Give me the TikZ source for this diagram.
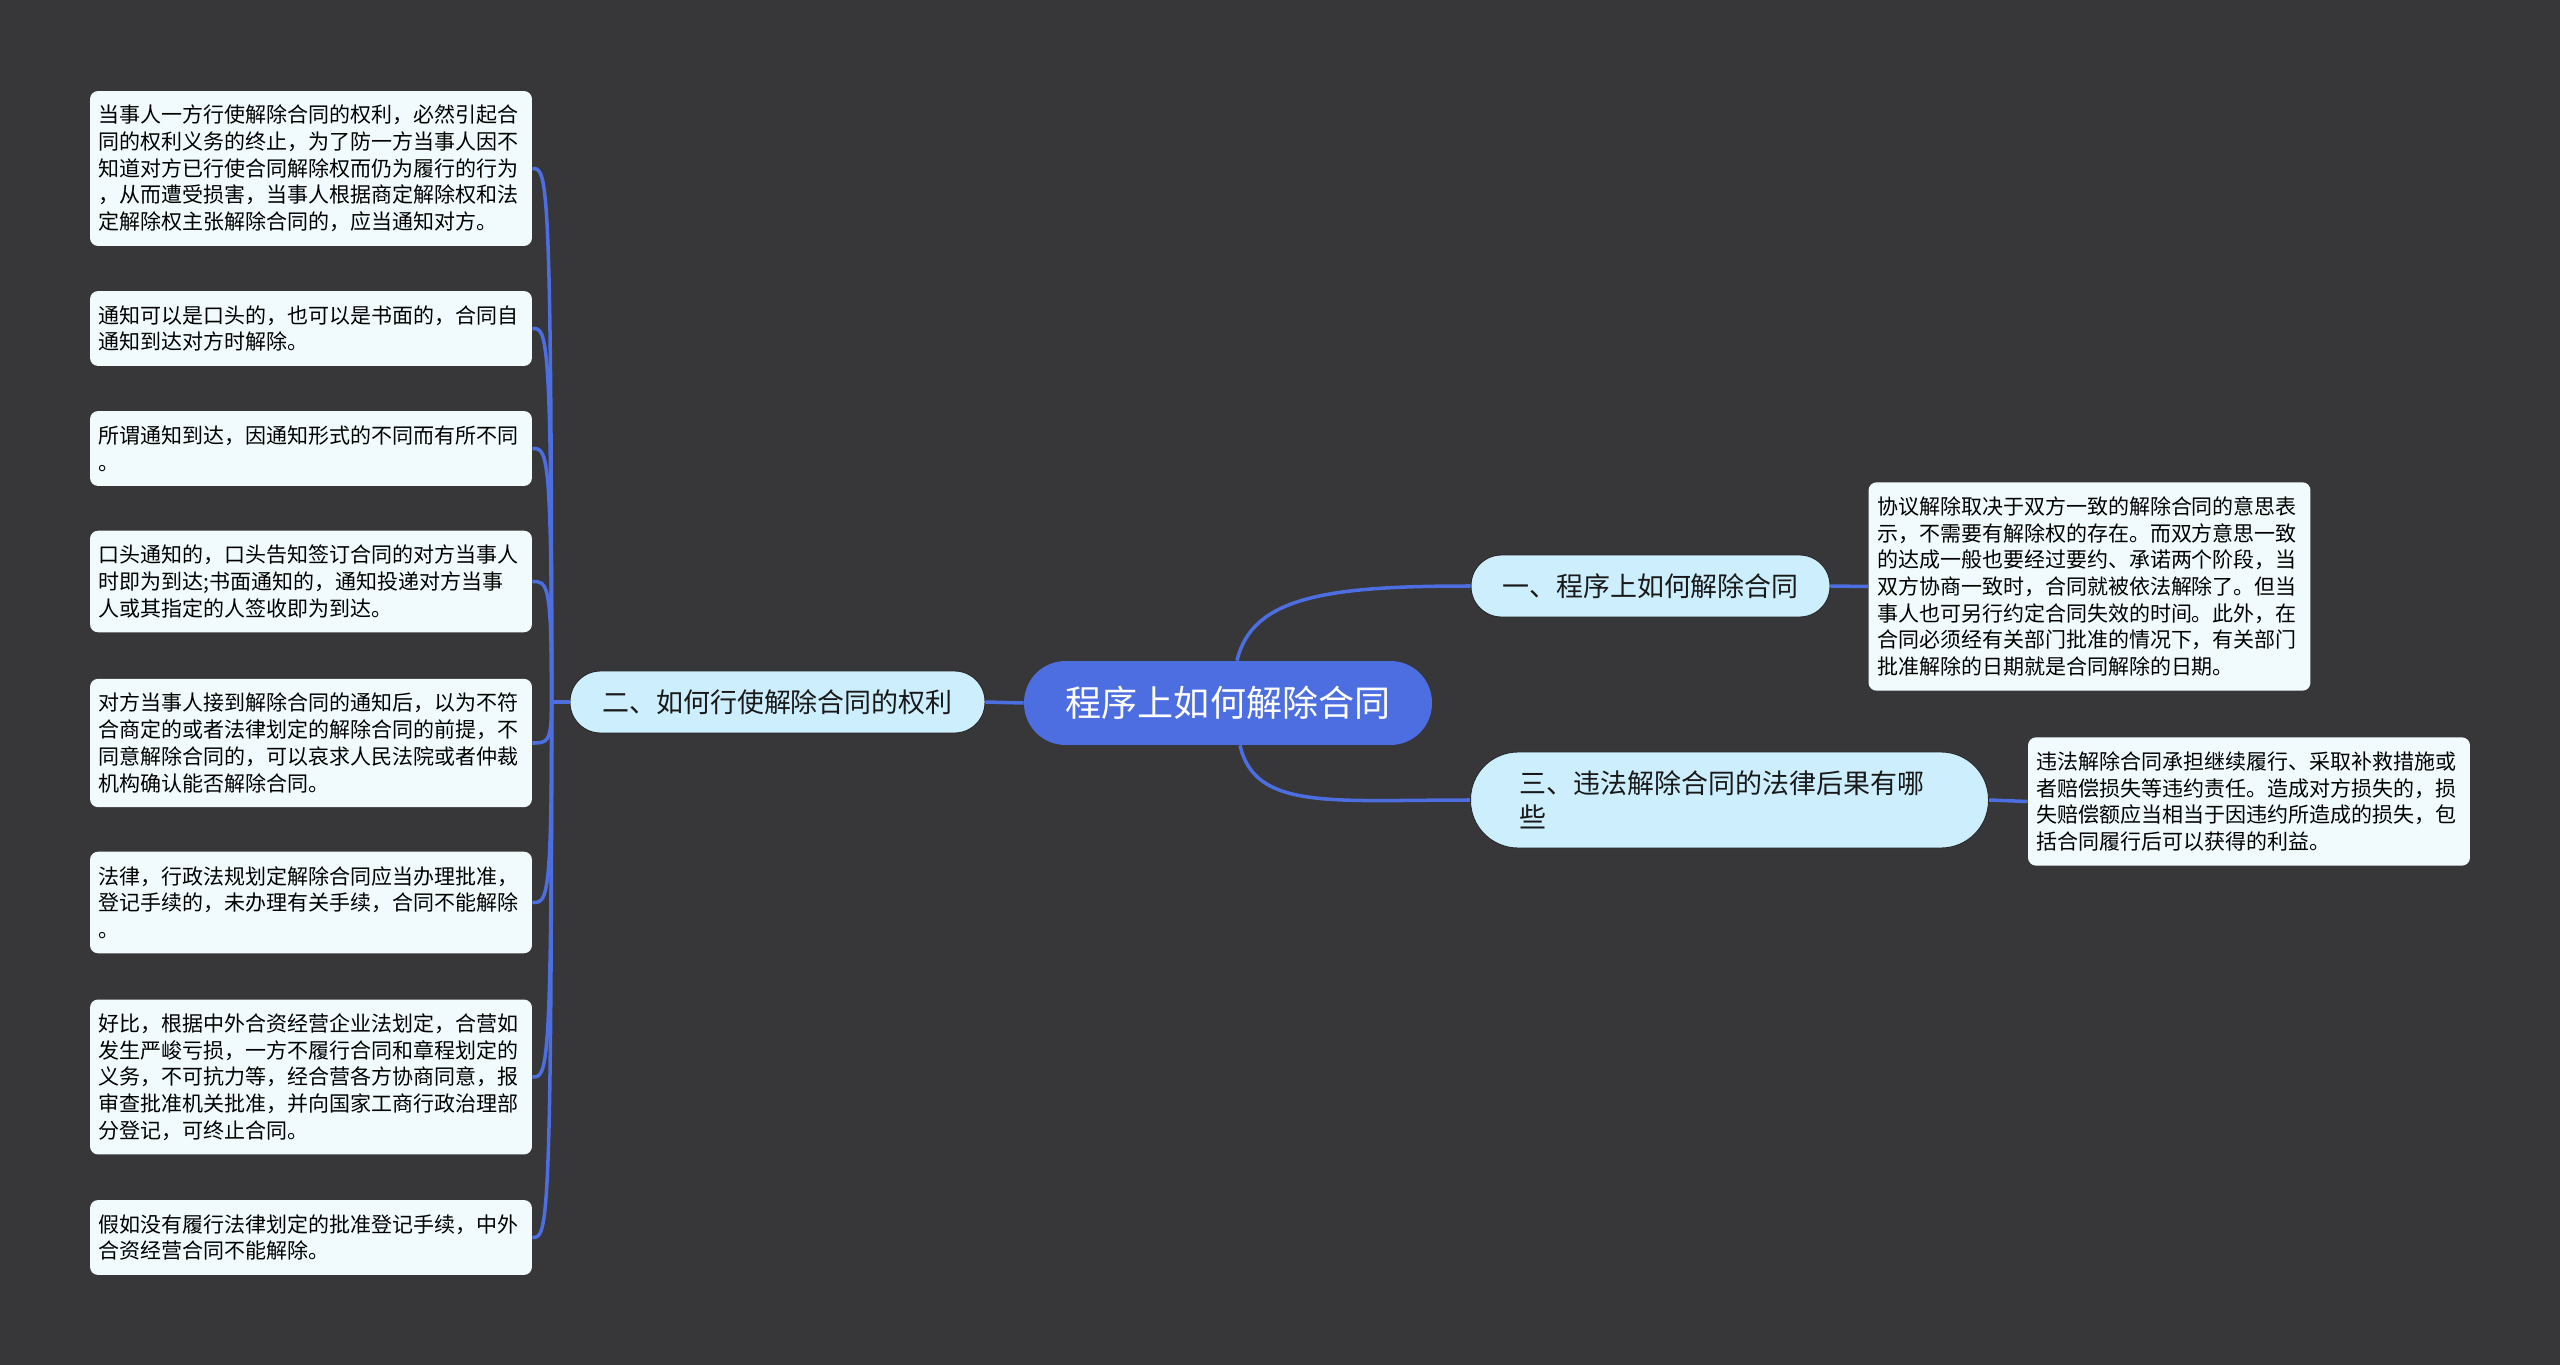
\documentclass[tikz,border=0pt]{standalone}
\usepackage{fontspec}
\setmainfont{Noto Sans CJK SC}
\usepackage{xcolor}
\usetikzlibrary{positioning,calc}

\definecolor{bg}{RGB}{55,54,57}
\definecolor{mapblue}{RGB}{76,110,224}
\definecolor{subfill}{RGB}{204,238,253}
\definecolor{leaffill}{RGB}{241,251,253}

\begin{document}
\begin{tikzpicture}[
  x=0.02cm, y=-0.02cm,
  topic/.style={rounded corners=0.83cm, fill=mapblue, text=white,
                minimum width=8.16cm, minimum height=1.68cm, inner sep=0pt,
                font=\fontsize{20.5}{24}\selectfont},
  subtopic/.style={rounded corners=0.61cm, fill=subfill, draw=black!85,
                   line width=0.5pt, minimum height=1.24cm, inner sep=0pt,
                   text=black!90, font=\fontsize{15.35}{19.3}\selectfont},
  leaf/.style={rounded corners=0.16cm, fill=leaffill, text=black,
               text width=8.5cm, inner xsep=0.17cm, inner ysep=0.05cm,
               align=left, font=\fontsize{11.95}{15.2}\selectfont},
  rows/.style={minimum height={#1*0.534cm+0.43cm}},
  link/.style={draw=mapblue, line width=2pt}
]
\fill[bg] (0,0) rectangle (2560,1365);
\useasboundingbox (0,0) rectangle (2560,1365);

% centre and main branches
\node[topic] (root) at (1228,703) {程序上如何解除合同};
\node[subtopic, minimum width=7.18cm] (b1) at (1650.5,586) {一、程序上如何解除合同};
\node[subtopic, minimum width=8.3cm] (b2) at (777.5,702) {二、如何行使解除合同的权利};
\node[subtopic, minimum width=10.36cm, minimum height=1.92cm, rounded corners=0.95cm,
      text width=8.4cm, align=left] (b3) at (1729.5,800)
  {三、违法解除合同的法律后果有哪\\些};

% right leaves
\node[leaf, rows=7] (r1) at (2089.5,586.5) {协议解除取决于双方一致的解除合同的意思表\\
示，不需要有解除权的存在。而双方意思一致\\
的达成一般也要经过要约、承诺两个阶段，当\\
双方协商一致时，合同就被依法解除了。但当\\
事人也可另行约定合同失效的时间。此外，在\\
合同必须经有关部门批准的情况下，有关部门\\
批准解除的日期就是合同解除的日期。};
\node[leaf, rows=4] (r3) at (2249,801.5) {违法解除合同承担继续履行、采取补救措施或\\
者赔偿损失等违约责任。造成对方损失的，损\\
失赔偿额应当相当于因违约所造成的损失，包\\
括合同履行后可以获得的利益。};

% left leaves
\node[leaf, rows=5] (l1) at (311,168.5) {当事人一方行使解除合同的权利，必然引起合\\
同的权利义务的终止，为了防一方当事人因不\\
知道对方已行使合同解除权而仍为履行的行为\\
，从而遭受损害，当事人根据商定解除权和法\\
定解除权主张解除合同的，应当通知对方。};
\node[leaf, rows=2] (l2) at (311,328.5) {通知可以是口头的，也可以是书面的，合同自\\
通知到达对方时解除。};
\node[leaf, rows=2] (l3) at (311,448.5) {所谓通知到达，因通知形式的不同而有所不同\\
。};
\node[leaf, rows=3] (l4) at (311,581.5) {口头通知的，口头告知签订合同的对方当事人\\
时即为到达;书面通知的，通知投递对方当事\\
人或其指定的人签收即为到达。};
\node[leaf, rows=4] (l5) at (311,743) {对方当事人接到解除合同的通知后，以为不符\\
合商定的或者法律划定的解除合同的前提，不\\
同意解除合同的，可以哀求人民法院或者仲裁\\
机构确认能否解除合同。};
\node[leaf, rows=3] (l6) at (311,902.5) {法律，行政法规划定解除合同应当办理批准，\\
登记手续的，未办理有关手续，合同不能解除\\
。};
\node[leaf, rows=5] (l7) at (311,1077) {好比，根据中外合资经营企业法划定，合营如\\
发生严峻亏损，一方不履行合同和章程划定的\\
义务，不可抗力等，经合营各方协商同意，报\\
审查批准机关批准，并向国家工商行政治理部\\
分登记，可终止合同。};
\node[leaf, rows=2] (l8) at (311,1237.5) {假如没有履行法律划定的批准登记手续，中外\\
合资经营合同不能解除。};

% links
\draw[link] (root.west) -- (b2.east);
\draw[link] ([xshift=0.18cm]root.north) .. controls +(15,-65) and +(-140,0) .. (b1.west);
\draw[link] ([xshift=0.24cm]root.south) .. controls +(15,65) and +(-140,0) .. (b3.west);
\draw[link] (b1.east) -- (r1.west);
\draw[link] (b3.east) -- (r3.west);

% fan to the left leaves
\coordinate (jn) at ([xshift=-0.36cm]b2.west);
\draw[link] (b2.west) -- (jn);
\foreach \i in {1,...,8}
  \draw[link] (jn) .. controls (jn |- l\i.east) and ([xshift=0.3cm]l\i.east) .. (l\i.east);
\end{tikzpicture}
\end{document}
